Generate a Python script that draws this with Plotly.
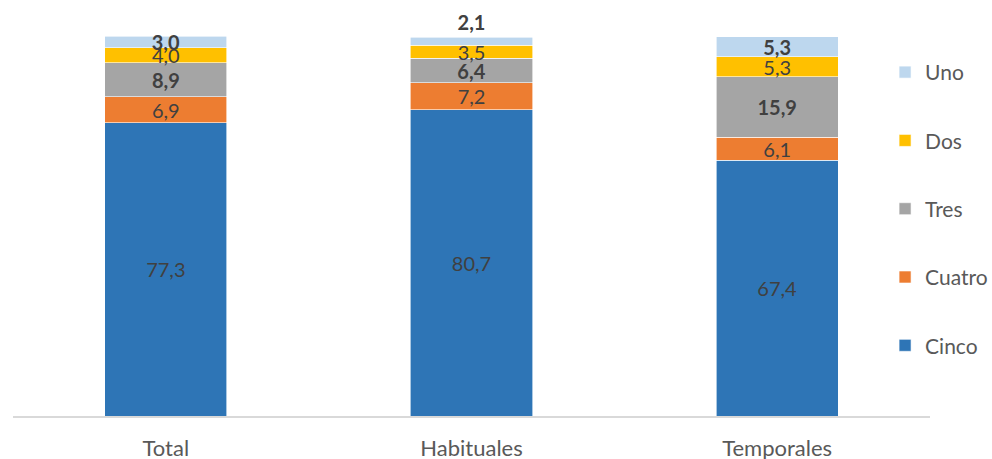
import plotly.graph_objects as go

categories = ["Total", "Habituales", "Temporales"]
series_names = ["Cinco", "Cuatro", "Tres", "Dos", "Uno"]
cinco = [77.3, 80.7, 67.4]
cuatro = [6.9, 7.2, 6.1]
tres = [8.9, 6.4, 15.9]
dos = [4.0, 3.5, 5.3]
uno = [3.0, 2.1, 5.3]

values = [cinco, cuatro, tres, dos, uno]
colors = ["#2E75B6", "#ED7D31", "#A5A5A5", "#FFC000", "#BDD7EE"]
bold = [False, False, True, False, True]
# the thin top segment of "Habituales" carries its label just above the bar
text_pos = [["inside"] * 3] * 4 + [["inside", "outside", "inside"]]

FONT = "Lato, 'Open Sans', sans-serif"
LABEL = "#404040"
AXIS = "#595959"

fig = go.Figure()
for i, (name, vals) in enumerate(zip(series_names, values)):
    tmpl = "<b>%{y:.1f}</b>" if bold[i] else "%{y:.1f}"
    fig.add_trace(go.Bar(
        name=name,
        x=categories,
        y=vals,
        marker=dict(color=colors[i], line=dict(color="white", width=0.6)),
        texttemplate=tmpl,
        textposition=text_pos[i],
        insidetextanchor="middle",
        textangle=0,
        constraintext="none",
        textfont=dict(family=FONT, size=20, color=LABEL),
        outsidetextfont=dict(family=FONT, size=20, color=LABEL),
        legendgroup=name,
        legendrank=len(series_names) - i,
        cliponaxis=False,
    ))

fig.update_layout(
    barmode="stack",
    bargap=0.6,
    separators=",.",
    width=992,
    height=459,
    margin=dict(l=13, r=62, t=36, b=43, autoexpand=False),
    paper_bgcolor="white",
    plot_bgcolor="white",
    font=dict(family=FONT, size=22, color=AXIS),
    uniformtext=dict(minsize=20, mode="show"),
    showlegend=True,
    legend=dict(
        x=0.951, y=0.958, xanchor="left", yanchor="top",
        traceorder="grouped",
        tracegroupgap=38,
        itemwidth=30,
        maxheight=459,
        font=dict(family=FONT, size=21, color=AXIS),
        bgcolor="rgba(0,0,0,0)",
    ),
    xaxis=dict(
        showline=True, linecolor="#D9D9D9", linewidth=1.5,
        ticks="", showgrid=False, zeroline=False,
        ticklabelstandoff=12,
        tickfont=dict(family=FONT, size=22, color=AXIS),
    ),
    yaxis=dict(range=[0, 100.2], visible=False, showgrid=False, zeroline=False),
)

fig.write_html("out.html")
